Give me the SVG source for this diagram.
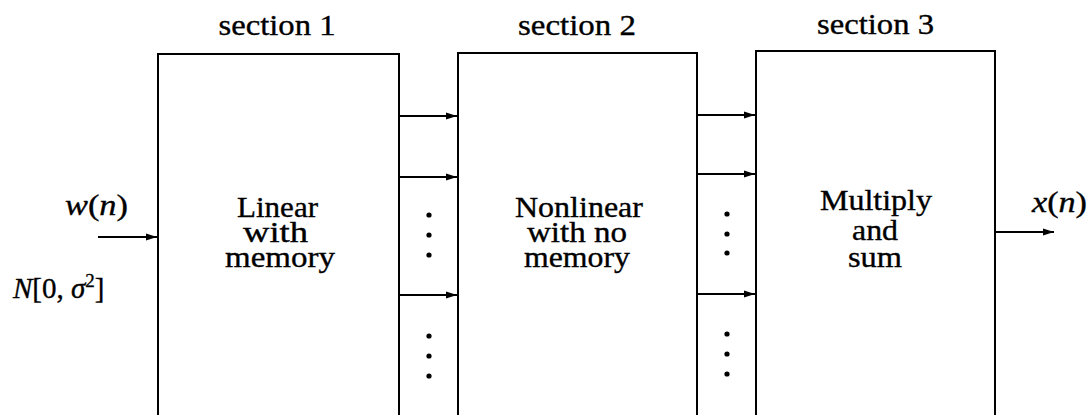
<svg xmlns="http://www.w3.org/2000/svg" width="1090" height="415" viewBox="0 0 1090 415">
<style>
.box{fill:none;stroke:#000;stroke-width:2}
.t{font-family:'Liberation Serif','DejaVu Serif',serif;font-size:29px;fill:#000;stroke:#000;stroke-width:0.35;text-anchor:middle}
.m{font-family:'Liberation Serif','DejaVu Serif',serif;font-size:29px;fill:#000;stroke:#000;stroke-width:0.35;font-style:italic}
.c{stroke:#000;stroke-width:2;fill:none;marker-end:url(#ah)}
.dot{fill:#000}
</style>
<defs>
<marker id="ah" markerUnits="userSpaceOnUse" markerWidth="11" markerHeight="8" refX="11" refY="4" orient="auto">
<path d="M0,0.5 L11,4 L0,7.5 z" fill="#000"/>
</marker>
</defs>
<rect width="1090" height="415" fill="#fff"/>

<g id="section1">
<path class="box" d="M158,415 V54 H399 V415"/>
<text class="t" x="277" y="35" textLength="117" lengthAdjust="spacingAndGlyphs">section 1</text>
<text class="t" x="277.5" y="217" textLength="81" lengthAdjust="spacingAndGlyphs">Linear</text>
<text class="t" x="275.5" y="242" textLength="65" lengthAdjust="spacingAndGlyphs">with</text>
<text class="t" x="280" y="267" textLength="110" lengthAdjust="spacingAndGlyphs">memory</text>
</g>

<g id="section2">
<path class="box" d="M458,415 V53 H697 V415"/>
<text class="t" x="577" y="35" textLength="118" lengthAdjust="spacingAndGlyphs">section 2</text>
<text class="t" x="579" y="217" textLength="128" lengthAdjust="spacingAndGlyphs">Nonlinear</text>
<text class="t" x="577" y="242" textLength="100" lengthAdjust="spacingAndGlyphs">with no</text>
<text class="t" x="577" y="267" textLength="106" lengthAdjust="spacingAndGlyphs">memory</text>
</g>

<g id="section3">
<path class="box" d="M756,415 V51 H995 V415"/>
<text class="t" x="875.5" y="34" textLength="117" lengthAdjust="spacingAndGlyphs">section 3</text>
<text class="t" x="876" y="210" textLength="112" lengthAdjust="spacingAndGlyphs">Multiply</text>
<text class="t" x="875" y="240" textLength="46" lengthAdjust="spacingAndGlyphs">and</text>
<text class="t" x="875" y="267" textLength="54" lengthAdjust="spacingAndGlyphs">sum</text>
</g>

<g id="input">
<text class="m" x="65" y="215" textLength="63" lengthAdjust="spacingAndGlyphs">w<tspan font-style="normal">(</tspan>n<tspan font-style="normal">)</tspan></text>
<text class="m" x="13" y="298">N<tspan font-style="normal">[0, </tspan>σ<tspan font-style="normal" font-size="19" dy="-11">2</tspan><tspan font-style="normal" dy="11">]</tspan></text>
</g>

<g id="output">
<text class="m" x="1032" y="212" textLength="55" lengthAdjust="spacingAndGlyphs">x<tspan font-style="normal">(</tspan>n<tspan font-style="normal">)</tspan></text>
</g>

<g id="connectors">
<line class="c" x1="98" y1="237" x2="157" y2="237"/>
<line class="c" x1="399" y1="116" x2="457" y2="116"/>
<line class="c" x1="399" y1="177" x2="457" y2="177"/>
<line class="c" x1="399" y1="295" x2="457" y2="295"/>
<line class="c" x1="697" y1="115" x2="755" y2="115"/>
<line class="c" x1="697" y1="174" x2="755" y2="174"/>
<line class="c" x1="697" y1="294" x2="755" y2="294"/>
<line class="c" x1="995" y1="232" x2="1054" y2="232"/>
</g>

<g id="dots">
<circle class="dot" cx="429" cy="215" r="2.6"/>
<circle class="dot" cx="429" cy="235" r="2.6"/>
<circle class="dot" cx="429" cy="255" r="2.6"/>
<circle class="dot" cx="429" cy="336" r="2.6"/>
<circle class="dot" cx="429" cy="356" r="2.6"/>
<circle class="dot" cx="429" cy="376" r="2.6"/>
<circle class="dot" cx="727" cy="214" r="2.6"/>
<circle class="dot" cx="727" cy="234" r="2.6"/>
<circle class="dot" cx="727" cy="253" r="2.6"/>
<circle class="dot" cx="727" cy="334" r="2.6"/>
<circle class="dot" cx="727" cy="354" r="2.6"/>
<circle class="dot" cx="727" cy="374" r="2.6"/>
</g>
</svg>
